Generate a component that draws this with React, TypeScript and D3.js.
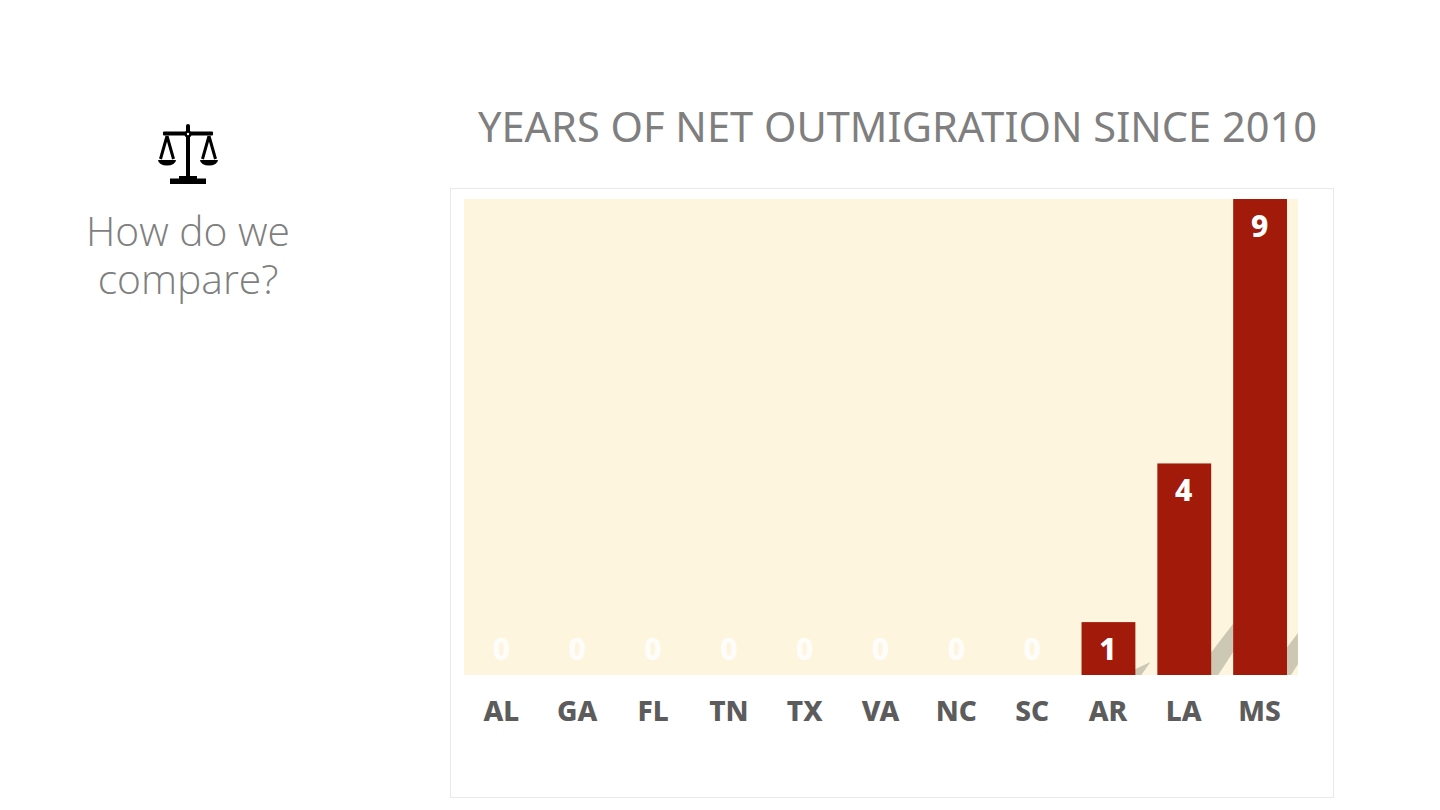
import React, { useEffect, useRef } from 'react';
import * as d3 from 'd3';

const states = ['AL', 'GA', 'FL', 'TN', 'TX', 'VA', 'NC', 'SC', 'AR', 'LA', 'MS'];
const years = [0, 0, 0, 0, 0, 0, 0, 0, 1, 4, 9];
const titleText = 'YEARS OF NET OUTMIGRATION SINCE 2010';
const sideLines = ['How do we', 'compare?'];

const App: React.FC = () => {
  const svgRef = useRef<SVGSVGElement>(null);

  useEffect(() => {
    if (!svgRef.current) return;
    const svg = d3.select(svgRef.current);
    svg.selectAll('*').remove();

    const plot = { left: 464, right: 1298, top: 199, bottom: 675 };
    const font = '"Noto Sans", sans-serif';

    const x = d3.scaleBand<string>()
      .domain(states)
      .range([plot.left, plot.right])
      .paddingInner(0.29)
      .paddingOuter(0.145);
    const y = d3.scaleLinear().domain([0, 9]).range([plot.bottom, plot.top]);

    const defs = svg.append('defs');
    defs.append('clipPath').attr('id', 'plot-clip')
      .append('rect')
      .attr('x', plot.left).attr('y', plot.top)
      .attr('width', plot.right - plot.left).attr('height', plot.bottom - plot.top);
    defs.append('filter').attr('id', 'soft')
      .append('feGaussianBlur').attr('stdDeviation', 0.7);

    // Panel and plot background
    svg.append('rect')
      .attr('x', 450.5).attr('y', 188.5).attr('width', 883).attr('height', 609)
      .attr('fill', '#fff').attr('stroke', '#e9e9e9');
    svg.append('rect')
      .attr('x', plot.left).attr('y', plot.top)
      .attr('width', plot.right - plot.left).attr('height', plot.bottom - plot.top)
      .attr('fill', '#fef5df');

    svg.append('text')
      .attr('x', 897.5).attr('y', 142)
      .attr('text-anchor', 'middle')
      .attr('font-family', font).attr('font-size', 41.55)
      .attr('fill', '#7f7f7f')
      .text(titleText);

    // Bar shadows, short bars cast a smaller one
    const bars = states.map((s, i) => ({ s, v: years[i] }));
    svg.append('g').attr('clip-path', 'url(#plot-clip)')
      .selectAll('path')
      .data(bars.filter(d => d.v > 0))
      .enter()
      .append('path')
      .attr('filter', 'url(#soft)')
      .attr('fill', '#cdc8b4')
      .attr('d', d => {
        const xr = x(d.s)! + x.bandwidth();
        const y0 = y(0);
        if (d.v < 2) {
          return `M${xr - 2},${y0}L${xr - 2},${y0 - 5}L${xr + 15},${y0 - 13}L${xr + 6},${y0}Z`;
        }
        const lift = 20 + (d.v - 4);
        const foot = 7 - (d.v - 4) * 0.6;
        return `M${xr - 2},${y0}L${xr - 2},${y0 - lift}L${xr + 24},${y0 - lift - 34}L${xr + 24},${y0 - lift - 6}L${xr + foot},${y0}Z`;
      });

    // Bars
    svg.selectAll('.bar')
      .data(bars)
      .enter()
      .append('rect')
      .attr('class', 'bar')
      .attr('x', d => x(d.s)!)
      .attr('y', d => y(d.v))
      .attr('width', x.bandwidth())
      .attr('height', d => y(0) - y(d.v))
      .attr('fill', '#a11a0a');

    // Value labels
    svg.selectAll('.value-label')
      .data(bars)
      .enter()
      .append('text')
      .attr('class', 'value-label')
      .attr('x', d => x(d.s)! + x.bandwidth() / 2 - 0.5)
      .attr('y', d => Math.min(y(d.v), y(1)) + 38)
      .attr('text-anchor', 'middle')
      .attr('font-family', font).attr('font-weight', 800).attr('font-size', 30)
      .attr('fill', '#fff')
      .attr('fill-opacity', d => (d.v === 0 ? 0.85 : 1))
      .text(d => d.v);

    // State labels
    svg.selectAll('.state-label')
      .data(states)
      .enter()
      .append('text')
      .attr('class', 'state-label')
      .attr('x', d => x(d)! + x.bandwidth() / 2 - 0.5)
      .attr('y', 721)
      .attr('text-anchor', 'middle')
      .attr('font-family', font).attr('font-weight', 800).attr('font-size', 28)
      .attr('fill', '#5c5c5c')
      .text(d => d);

    // Left side heading
    svg.append('text')
      .attr('text-anchor', 'middle')
      .attr('font-family', '"Open Sans", sans-serif').attr('font-weight', 300).attr('font-size', 40.8)
      .attr('fill', '#7f7f7f')
      .selectAll('tspan')
      .data(sideLines)
      .enter()
      .append('tspan')
      .attr('x', 188)
      .attr('y', (_, i) => 246 + i * 48)
      .text(d => d);

    // Scales icon
    const icon = svg.append('g').attr('fill', '#000');
    icon.append('rect').attr('x', 186).attr('y', 124).attr('width', 4).attr('height', 54).attr('rx', 2);
    icon.append('rect').attr('x', 163).attr('y', 131.5).attr('width', 50).attr('height', 4).attr('rx', 1);
    icon.append('circle').attr('cx', 188).attr('cy', 134).attr('r', 3.5);
    icon.append('circle').attr('cx', 188).attr('cy', 134).attr('r', 1.2).attr('fill', '#fff');
    icon.append('rect').attr('x', 179).attr('y', 176).attr('width', 18).attr('height', 3);
    icon.append('rect').attr('x', 170).attr('y', 178.5).attr('width', 36).attr('height', 5.5);
    [167, 209].forEach(cx => {
      icon.append('path')
        .attr('d', `M${cx},136L${cx - 6.5},159M${cx},136L${cx + 6.5},159`)
        .attr('stroke', '#000').attr('stroke-width', 3).attr('fill', 'none');
      icon.append('path')
        .attr('d', `M${cx - 9},160H${cx + 9}A9,5.5 0 0 1 ${cx - 9},160Z`);
    });
  }, []);

  return (
    <svg
      ref={svgRef}
      width={1440}
      height={810}
      style={{ position: 'absolute', left: 0, top: 0, background: '#fff' }}
    />
  );
};

export default App;
